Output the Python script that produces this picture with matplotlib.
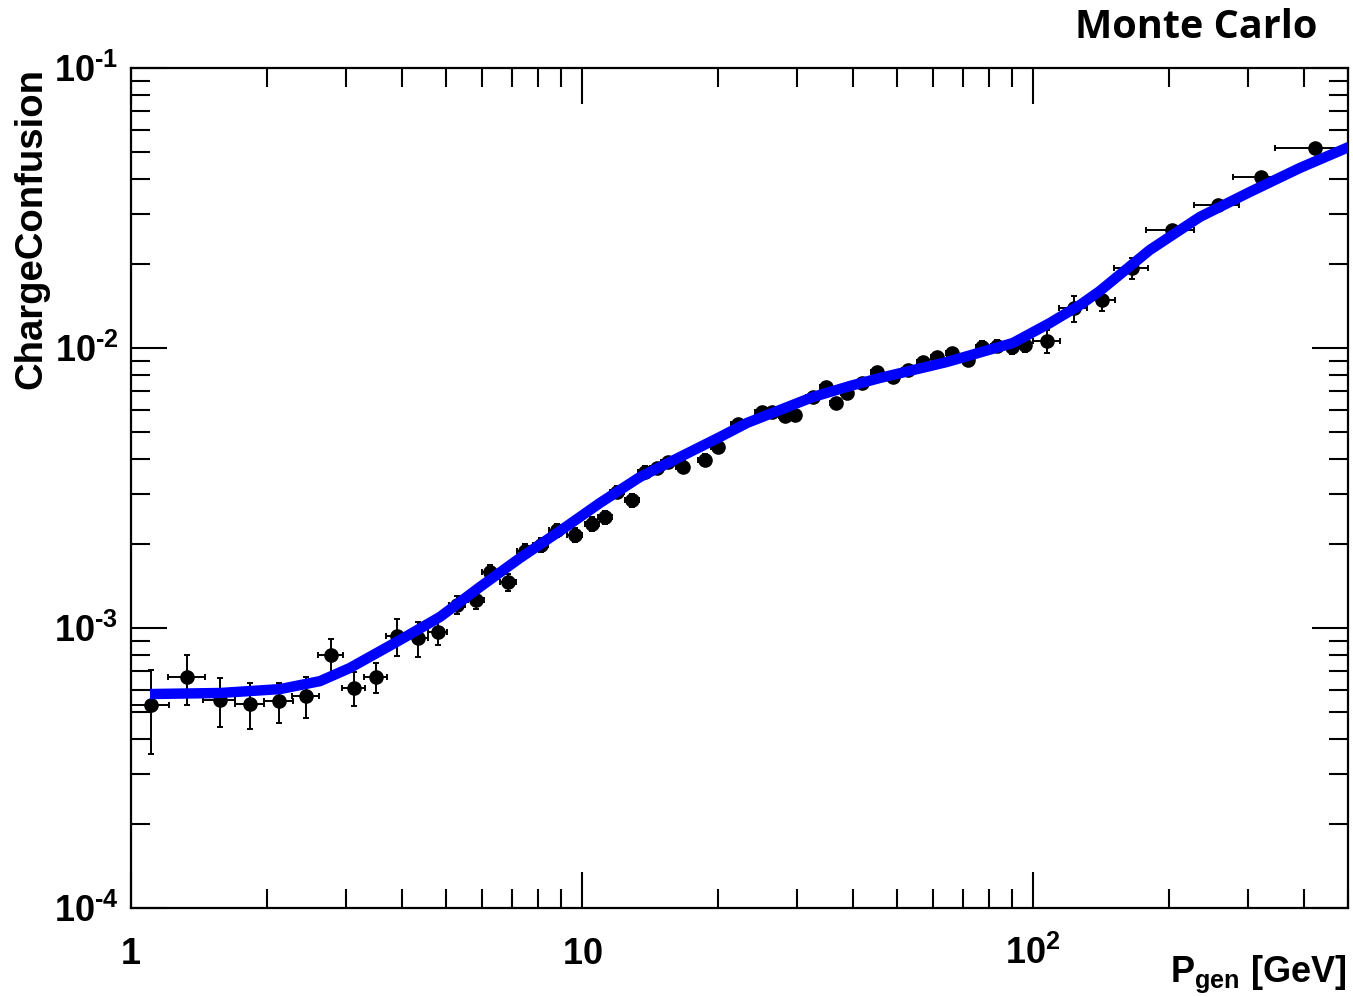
import matplotlib
matplotlib.use("Agg")
import matplotlib.pyplot as plt
from matplotlib.ticker import LogLocator, NullFormatter, FixedLocator

# measured points (bin centre, charge confusion) with errors
p_gen = [1.107, 1.331, 1.575, 1.836, 2.129, 2.443, 2.777, 3.122, 3.494, 3.890,
         4.329, 4.794, 5.283, 5.821, 6.252, 6.855, 7.475, 8.113, 8.802, 9.650,
         10.52, 11.25, 11.96, 12.91, 13.80, 14.67, 15.51, 16.75, 18.74, 20.03,
         22.18, 25.07, 26.38, 28.19, 29.67, 32.53, 34.75, 36.57, 38.69, 41.77,
         45.10, 48.94, 52.83, 57.04, 61.25, 66.13, 71.77, 77.09, 83.22, 89.83,
         96.0, 107.4, 123.3, 142.2, 165.8, 203.3, 257.2, 320.3, 421.9]
charge_conf = [5.31e-4, 6.68e-4, 5.53e-4, 5.35e-4, 5.48e-4, 5.71e-4, 8.01e-4, 6.11e-4,
               6.68e-4, 9.36e-4, 9.21e-4, 9.67e-4, 1.208e-3, 1.259e-3, 1.585e-3,
               1.459e-3, 1.884e-3, 1.978e-3, 2.239e-3, 2.149e-3, 2.352e-3, 2.491e-3,
               3.059e-3, 2.864e-3, 3.606e-3, 3.727e-3, 3.915e-3, 3.758e-3, 3.981e-3,
               4.430e-3, 5.353e-3, 5.907e-3, 5.907e-3, 5.716e-3, 5.763e-3, 6.683e-3,
               7.255e-3, 6.36e-3, 6.905e-3, 7.499e-3, 8.208e-3, 7.877e-3, 8.345e-3,
               8.913e-3, 9.287e-3, 9.597e-3, 9.06e-3, 1.008e-2, 1.016e-2, 1.008e-2,
               1.025e-2, 1.059e-2, 1.389e-2, 1.484e-2, 1.931e-2, 2.638e-2, 3.241e-2,
               4.079e-2, 5.179e-2]
p_err = [0.107, 0.125, 0.13, 0.136, 0.158, 0.163, 0.178, 0.185, 0.21, 0.21,
         0.22, 0.23, 0.22, 0.24, 0.25, 0.27, 0.29, 0.31, 0.33, 0.36,
         0.38, 0.40, 0.42, 0.45, 0.48, 0.5, 0.53, 0.57, 0.63, 0.67,
         0.74, 0.82, 0.86, 0.9, 0.95, 1.05, 1.1, 1.15, 1.2, 1.3,
         1.4, 1.5, 1.6, 1.75, 1.9, 2.0, 2.2, 2.4, 2.6, 2.8,
         3.2, 7.4, 8.8, 9.7, 14.7, 25, 30, 42, 78]
conf_err = [1.75e-4, 1.35e-4, 1.1e-4, 1.0e-4, 0.9e-4, 0.95e-4, 1.1e-4, 0.85e-4, 0.8e-4,
            1.4e-4, 1.3e-4, 1.0e-4, 0.9e-4, 0.9e-4, 1.0e-4, 1.0e-4, 1.1e-4, 1.1e-4,
            1.2e-4, 1.2e-4, 1.3e-4, 1.3e-4, 1.5e-4, 1.5e-4, 1.7e-4, 1.7e-4, 1.8e-4,
            1.8e-4, 1.9e-4, 2.0e-4, 2.2e-4, 2.4e-4, 2.4e-4, 2.4e-4, 2.5e-4, 2.8e-4,
            3.0e-4, 2.8e-4, 3.0e-4, 3.2e-4, 3.5e-4, 3.5e-4, 3.7e-4, 4.0e-4, 4.2e-4,
            4.4e-4, 4.5e-4, 5.0e-4, 5.2e-4, 5.5e-4, 6.0e-4, 1.0e-3, 1.5e-3, 1.3e-3,
            1.65e-3, 1.2e-3, 1.0e-3, 1.5e-3, 0.8e-3]

# fitted curve
fit_p = [1.102, 1.575, 2.140, 2.625, 3.059, 3.950, 4.843, 5.940, 7.288, 8.937,
         10.96, 13.45, 16.50, 20.23, 23.22, 27.48, 32.53, 39.28, 45.79, 64.48,
         90.31, 109.1, 127.2, 140.8, 181.7, 234.6, 302.8, 390.9, 502.0]
fit_conf = [5.81e-4, 5.86e-4, 6.05e-4, 6.46e-4, 7.20e-4, 9.06e-4, 1.095e-3, 1.401e-3,
            1.778e-3, 2.220e-3, 2.795e-3, 3.461e-3, 4.080e-3, 4.808e-3, 5.397e-3,
            6.006e-3, 6.683e-3, 7.315e-3, 7.814e-3, 8.913e-3, 1.042e-2, 1.228e-2,
            1.424e-2, 1.598e-2, 2.239e-2, 2.937e-2, 3.607e-2, 4.394e-2, 5.223e-2]

x_ticks = [1, 10, 100]
x_ticklabels = [r"$\mathbf{1}$", r"$\mathbf{10}$", r"$\mathbf{10^{2}}$"]
y_ticks = [1e-4, 1e-3, 1e-2, 1e-1]
y_ticklabels = [r"$\mathbf{10^{\text{-}4}}$", r"$\mathbf{10^{\text{-}3}}$",
                r"$\mathbf{10^{\text{-}2}}$", r"$\mathbf{10^{\text{-}1}}$"]

plt.rcParams["font.family"] = ["Liberation Sans", "DejaVu Sans"]
plt.rcParams["font.weight"] = "bold"
plt.rcParams["mathtext.fontset"] = "custom"
plt.rcParams["mathtext.rm"] = "Liberation Sans:bold"
plt.rcParams["mathtext.bf"] = "Liberation Sans:bold"
plt.rcParams["mathtext.it"] = "Liberation Sans:bold"
plt.rcParams["mathtext.default"] = "bf"

W, H = 1353, 997
fig = plt.figure(figsize=(W / 100, H / 100), dpi=100)
ax = fig.add_axes([131 / W, 1 - 908 / H, (1348 - 131) / W, (908 - 68) / H])

ax.errorbar(p_gen, charge_conf, xerr=p_err, yerr=conf_err, fmt="o", color="black",
            ms=9.5, elinewidth=1.4, capsize=2.5, capthick=1.4, zorder=2)
ax.plot(fit_p, fit_conf, color="#0000ff", lw=7.5, zorder=3, solid_capstyle="butt")

ax.set_xscale("log")
ax.set_yscale("log")
ax.set_xlim(1, 500)
ax.set_ylim(1e-4, 1e-1)

ax.xaxis.set_major_locator(FixedLocator(x_ticks))
ax.set_xticklabels(x_ticklabels)
ax.yaxis.set_major_locator(FixedLocator(y_ticks))
ax.set_yticklabels(y_ticklabels)
ax.xaxis.set_minor_locator(LogLocator(base=10, subs=range(2, 10)))
ax.yaxis.set_minor_locator(LogLocator(base=10, subs=range(2, 10)))
ax.xaxis.set_minor_formatter(NullFormatter())
ax.yaxis.set_minor_formatter(NullFormatter())

ax.tick_params(which="both", direction="in", top=True, right=True, width=1.5,
               labelsize=26)
ax.tick_params(which="major", length=26)
ax.tick_params(which="minor", length=14)
ax.tick_params(axis="x", which="major", pad=40)
ax.tick_params(axis="y", which="major", pad=9)
for lab in ax.get_xticklabels():
    lab.set_va("baseline")

for s in ax.spines.values():
    s.set_linewidth(1.6)

fig.text(1347 / W, 1 - 982 / H, r"P$_{\mathbf{gen}}$ [GeV]", ha="right", va="baseline",
         fontsize=26, fontweight="bold")
fig.text(31 / W, 1 - 68 / H, "ChargeConfusion", rotation=90, ha="center", va="top",
         fontsize=27.5, fontweight="bold")
fig.text(1317 / W, 1 - 38 / H, "Monte Carlo", ha="right", va="baseline",
         fontsize=28.5, fontweight="bold", family=["Open Sans", "DejaVu Sans"])

fig.savefig("out.png", dpi=100, facecolor="white")
